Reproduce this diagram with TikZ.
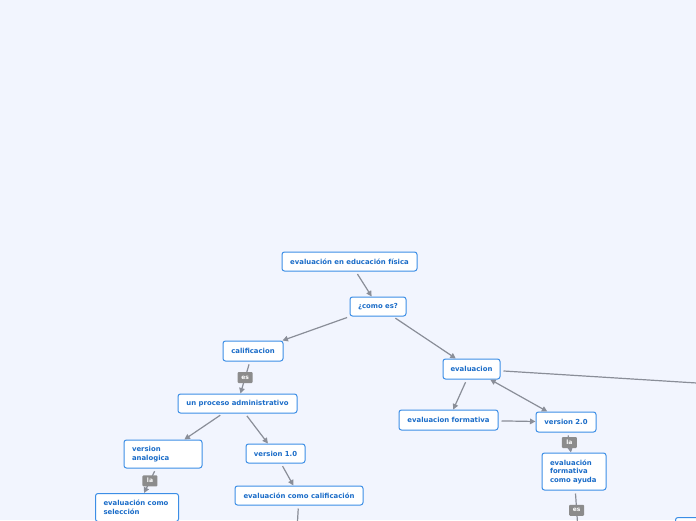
\documentclass[tikz,border=0pt]{standalone}
\usepackage{fontspec}
\setmainfont{DejaVu Sans}
\usetikzlibrary{arrows.meta}
\definecolor{bg}{HTML}{F2F5FE}
\definecolor{nb}{HTML}{3C8EE6}
\definecolor{nt}{HTML}{1A6CC8}
\definecolor{eg}{HTML}{8A8E98}
\definecolor{lg}{HTML}{8C8C8C}
\begin{document}
\begin{tikzpicture}[x=1pt,y=-1pt,
 topic/.style={draw=nb, line width=1pt, fill=white, rounded corners=2.5pt, text=nt, font=\fontsize{6.9}{8.5}\selectfont\bfseries, inner sep=0pt, align=center},
 ml/.style={topic, align=left, inner xsep=8pt},
 lab/.style={fill=lg, text=white, rounded corners=1pt, font=\fontsize{6}{6.5}\selectfont\bfseries, inner sep=0pt, minimum width=15pt, minimum height=11pt},
 con/.style={draw=eg, line width=1.2pt, -{Triangle[length=5.5pt,width=5.5pt]}, shorten <=3pt},
 bicon/.style={draw=eg, line width=1.2pt, {Triangle[length=5.5pt,width=5.5pt]}-{Triangle[length=5.5pt,width=5.5pt]}},
 plain/.style={draw=eg, line width=1.2pt, shorten <=3pt}]
\fill[bg] (0,0) rectangle (696,520);
\useasboundingbox (0,0) rectangle (696,520);
\clip (0,0) rectangle (696,520);

\node[topic, minimum width=135pt, minimum height=19pt] (root) at (349.5,261.5) {evaluación en educación física};
\node[topic, minimum width=56pt, minimum height=19pt] (como) at (378,306.5) {¿como es?};
\node[topic, minimum width=60pt, minimum height=20pt] (calif) at (253,351) {calificacion};
\node[topic, minimum width=119pt, minimum height=19pt] (proc) at (237.5,403.5) {un proceso administrativo};
\node[ml, text width=62pt, minimum height=28pt] (van) at (163,454) {version\\analogica};
\node[topic, minimum width=59pt, minimum height=19pt] (v1) at (275.5,453.5) {version 1.0};
\node[ml, text width=67pt, minimum height=28pt, anchor=north west] (sel) at (95,493) {evaluación como\\selección};
\node[topic, minimum width=128pt, minimum height=19pt] (ecc) at (299,495.5) {evaluación como calificación};
\node[topic, minimum width=57pt, minimum height=20pt] (ev) at (471.5,369) {evaluacion};
\node[topic, minimum width=99pt, minimum height=20pt] (ef) at (448.5,420) {evaluacion formativa};
\node[topic, minimum width=60pt, minimum height=20pt] (v2) at (566,422) {version 2.0};
\node[ml, text width=48pt, minimum height=37pt] (ayuda) at (574,471.5) {evaluación\\formativa\\como ayuda};
\node[topic, minimum width=60pt, minimum height=20pt, anchor=north west] (br) at (675,517) {};

\coordinate (offb) at (297,530);
\coordinate (offr) at (700,383.2);
\coordinate (offb2) at (578,530);

\draw[con] (root) -- (como);
\draw[con] (como) -- (calif);
\draw[con] (como) -- (ev);
\draw[con] (calif) -- node[lab] {es} (proc);
\draw[con] (proc) -- (van);
\draw[con] (proc) -- (v1);
\draw[con] (van) -- node[lab] {la} (sel);
\draw[con] (v1) -- (ecc);
\draw[plain] (ecc) -- (offb);
\draw[con] (ev) -- (ef);
\draw[con] (ef) -- (v2);
\draw[bicon] (ev) -- (v2);
\draw[plain] (ev) -- (offr);
\draw[con] (v2) -- node[lab] {la} (ayuda);
\draw[plain] (ayuda) -- node[lab] {es} (offb2);
\end{tikzpicture}
\end{document}
